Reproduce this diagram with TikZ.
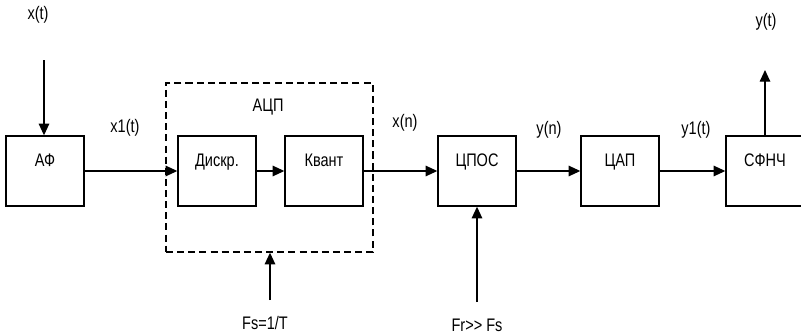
\documentclass[tikz,border=0pt]{standalone}
\usepackage{fontspec}
\setmainfont{Liberation Sans}
\usetikzlibrary{arrows.meta}
\newcommand\nt[1]{\scalebox{0.8}[1]{#1}}

\begin{document}
\begin{tikzpicture}[x=0.03cm,y=-0.03cm,
  blk/.style={draw,line width=1.2pt,minimum width=2.34cm,minimum height=2.1cm,
    text height=0.38cm,text depth=0.68cm,inner sep=0pt,font=\fontsize{15.5}{17}\selectfont},
  arr/.style={line width=1.2pt,-{Triangle[length=10pt,width=9pt]}},
  lbl/.style={font=\fontsize{15.5}{17}\selectfont,inner sep=0pt}]
\useasboundingbox (0,0) rectangle (801,336);
\clip (0,0) rectangle (801,336);
\coordinate (xin) at (44,60);
\coordinate (fs) at (270,300);
\coordinate (fr) at (477,302);
\coordinate (yout) at (765,70);
\node[draw,dashed,dash pattern=on 6pt off 3.5pt,line width=1.2pt,minimum width=6.21cm,minimum height=5.07cm] (adc) at (269.5,167.5) {};
\node[blk] (af) at (45,171) {\nt{АФ}};
\node[blk] (dskr) at (217,171) {\nt{Дискр.}};
\node[blk] (kv) at (324,171) {\nt{Квант}};
\node[blk] (cpos) at (477,171) {\nt{ЦПОС}};
\node[blk] (cap) at (620,171) {\nt{ЦАП}};
\node[blk] (sfnch) at (765,171) {\nt{СФНЧ}};
\node[lbl] (adcl) at (268,107) {\nt{АЦП}};
\node[lbl] (xt) at (38,15) {\nt{x(t)}};
\node[lbl] (x1t) at (125,128) {\nt{x1(t)}};
\node[lbl] (xn) at (405,123) {\nt{x(n)}};
\node[lbl] (yn) at (549,130) {\nt{y(n)}};
\node[lbl] (y1t) at (696,130) {\nt{y1(t)}};
\node[lbl] (yt) at (766,22) {\nt{y(t)}};
\node[lbl] (fsl) at (265,323) {\nt{Fs=1/T}};
\node[lbl] (frl) at (477,325) {\nt{Fr{>}{>} Fs}};
\draw[arr] (xin) -- (xin |- af.north);
\draw[arr] (af) -- (dskr);
\draw[arr] (dskr) -- (kv);
\draw[arr] (kv) -- (cpos);
\draw[arr] (cpos) -- (cap);
\draw[arr] (cap) -- (sfnch);
\draw[arr] (fs) -- (fs |- adc.south);
\draw[arr] (fr) -- (cpos);
\draw[arr] (sfnch) -- (yout);
\end{tikzpicture}
\end{document}
